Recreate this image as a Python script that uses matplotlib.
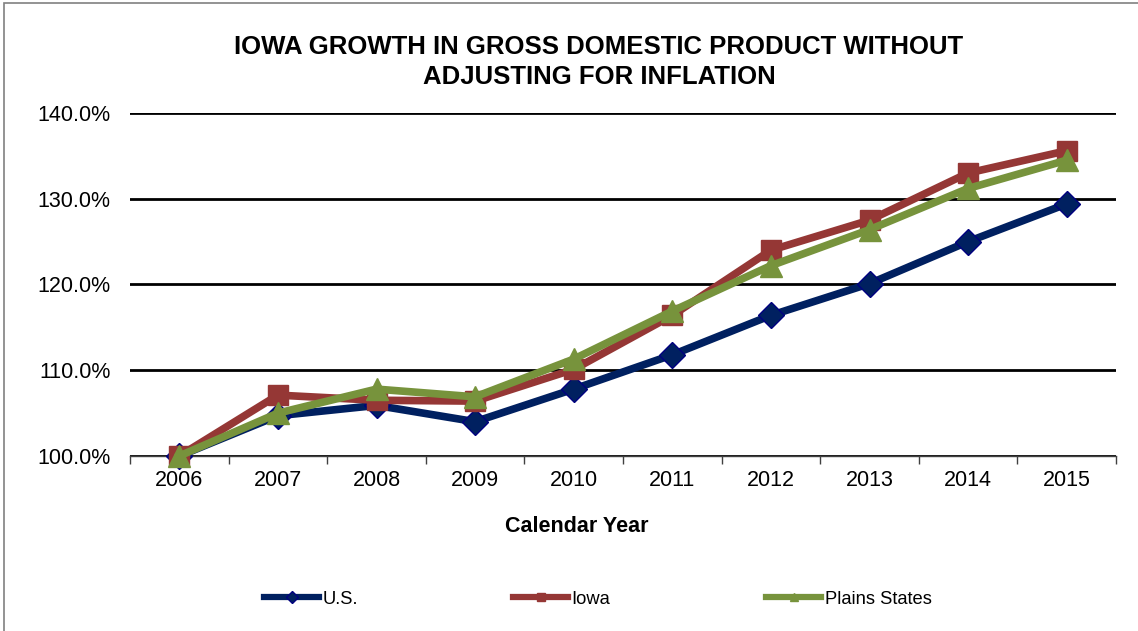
import numpy as np
import matplotlib.pyplot as plt
from matplotlib.patches import Rectangle

plt.rcParams['font.family'] = ['Liberation Sans', 'DejaVu Sans']

years = ['2006', '2007', '2008', '2009', '2010', '2011', '2012', '2013', '2014', '2015']
us = [100.0, 104.7, 105.9, 104.0, 107.8, 111.8, 116.4, 120.1, 125.0, 129.4]
iowa = [100.0, 107.1, 106.5, 106.4, 110.1, 116.4, 124.0, 127.5, 133.0, 135.6]
plains = [100.0, 105.0, 107.8, 106.9, 111.3, 116.9, 122.2, 126.4, 131.2, 134.5]

series = [
    ('U.S.', us, '#002060', 'D', 13),
    ('Iowa', iowa, '#953735', 's', 15),
    ('Plains States', plains, '#77933C', '^', 16),
]

fig = plt.figure(figsize=(11.38, 6.31), dpi=100)
ax = fig.add_axes([130 / 1138, 1 - 456 / 631, 986 / 1138, 343 / 631])

x = np.arange(len(years))
lines = []
for name, vals, col, mk, ms in series:
    ln, = ax.plot(x, vals, color=col, lw=5.5, marker=mk, markersize=ms,
                  markeredgecolor=col if mk != 'D' else '#000080', markeredgewidth=1,
                  solid_joinstyle='round', label=name, clip_on=False, zorder=3)
    lines.append(ln)

ax.set_xlim(-0.5, len(years) - 0.5)
ax.set_ylim(100, 140)
ax.set_yticks([100, 110, 120, 130, 140])
ax.set_yticklabels(['%.1f%%' % v for v in [100, 110, 120, 130, 140]], fontsize=15.5)
ax.yaxis.grid(True, color='black', lw=2)
ax.set_axisbelow(True)
ax.tick_params(axis='y', length=0, pad=14)

# category ticks sit between the years
ax.set_xticks(np.arange(len(years) + 1) - 0.5, minor=True)
ax.set_xticks(x)
ax.set_xticklabels(years, fontsize=15.5)
ax.tick_params(axis='x', which='major', length=0, pad=10)
ax.tick_params(axis='x', which='minor', length=6, width=1, color='#404040')
for s in ['left', 'right', 'top']:
    ax.spines[s].set_visible(False)
ax.spines['bottom'].set_color('#404040')
ax.spines['bottom'].set_linewidth(1)

fig.text(577 / 1138, 1 - 527 / 631, 'Calendar Year', ha='center', va='center',
         fontsize=15.5, fontweight='bold')

fig.text(599 / 1138, 1 - 62 / 631,
         'IOWA GROWTH IN GROSS DOMESTIC PRODUCT WITHOUT\nADJUSTING FOR INFLATION',
         ha='center', va='center', fontsize=18.5, fontweight='bold', linespacing=1.32)

# legend, one entry per slot like the original
leg_x = [264, 513, 766]
for ln, lx in zip(lines, leg_x):
    h, = ax.plot([], [], color=ln.get_color(), lw=4.5, marker=ln.get_marker(),
                 markersize=6, markeredgecolor=ln.get_markeredgecolor())
    fig.legend([h], [ln.get_label()], loc='center left',
               bbox_to_anchor=(lx / 1138, 1 - 599 / 631), frameon=False,
               fontsize=13.2, handlelength=3.0, handletextpad=0.2,
               borderpad=0, borderaxespad=0)

fig.patches.append(Rectangle((4 / 1138, -0.1), 1.2, 1 - 3 / 631 + 0.1,
                             transform=fig.transFigure, fill=False,
                             edgecolor='#808080', lw=1.2))

fig.savefig('out.png', dpi=100)
